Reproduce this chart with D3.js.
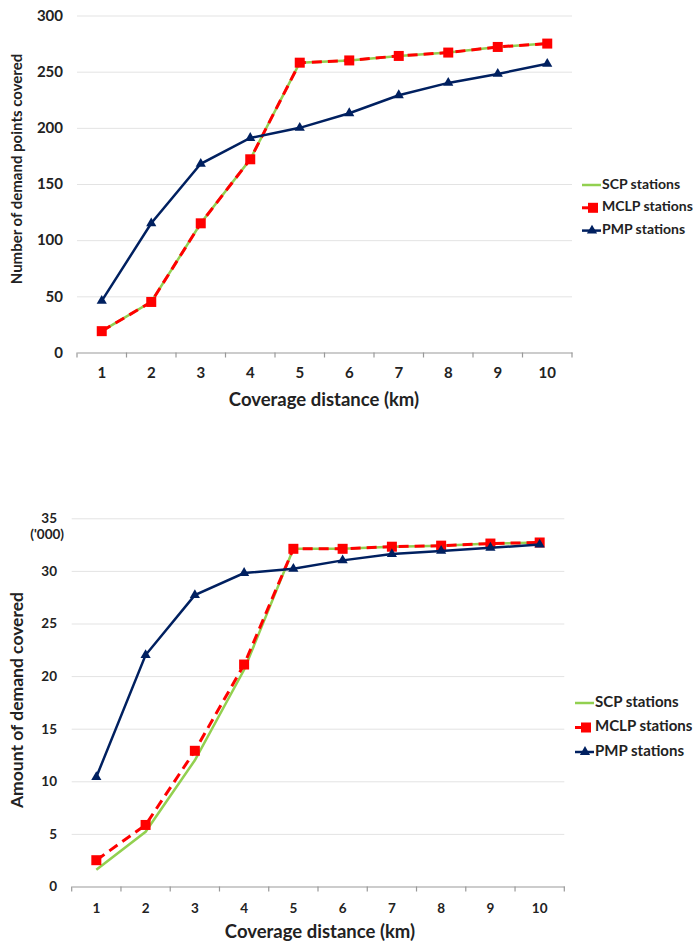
<!DOCTYPE html>
<html><head><meta charset="utf-8">
<script src="https://cdn.jsdelivr.net/npm/d3@7"></script>
<style>
body{margin:0;background:#fff;}
svg text{font-family:Lato,"Open Sans",sans-serif;fill:#222;}
</style></head>
<body><svg id="c" width="693" height="948"></svg>
<script>
const categories=[1,2,3,4,5,6,7,8,9,10];
// Chart 1: number of demand points covered
const scp1=[19,45,115,172,258,260,264,267,272,275];
const mclp1=[19,45,115,172,258,260,264,267,272,275];
const pmp1=[46,115,168,191,200,213,229,240,248,257];
const yTicks1=[0,50,100,150,200,250,300];
// Chart 2: amount of demand covered ('000)
const scp2=[1.6,5.2,12.0,20.6,32.1,32.1,32.3,32.4,32.6,32.7];
const mclp2=[2.5,5.85,12.9,21.1,32.1,32.1,32.3,32.4,32.6,32.7];
const pmp2=[10.4,22.0,27.7,29.8,30.2,31.0,31.6,31.9,32.2,32.5];
const yTicks2=[0,5,10,15,20,25,30,35];
const seriesNames=["SCP stations","MCLP stations","PMP stations"];
const colors={green:"#92d050",red:"#ff0000",navy:"#002060"};

const svg=d3.select("#c");

function drawChart(o){
  const g=svg.append("g");
  const x=d3.scaleBand().domain(categories).range([o.x0,o.x1]);
  const y=d3.scaleLinear().domain([0,o.ymax]).range([o.yb,o.yt]);
  const cx=d=>x(d)+x.bandwidth()/2;
  // gridlines
  g.append("g").attr("transform",`translate(${o.x0},0)`)
    .call(d3.axisLeft(y).tickValues(o.ticks.filter(t=>t>0)).tickSize(-(o.x1-o.x0)).tickFormat(""))
    .call(s=>s.select(".domain").remove())
    .call(s=>s.selectAll("line").attr("stroke","#e3e3e3").attr("stroke-width",1));
  // y tick labels
  g.append("g").attr("transform",`translate(${o.ylabX},0)`)
    .call(d3.axisLeft(y).tickValues(o.ticks).tickSize(0).tickPadding(0))
    .call(s=>s.select(".domain").remove())
    .call(s=>s.selectAll("text").attr("font-size",o.tickFs).attr("font-weight","bold").attr("fill","#222").style("font-family","Lato,sans-serif"));
  // x axis
  g.append("g").attr("transform",`translate(0,${o.yb})`)
    .call(d3.axisBottom(x).tickSize(0).tickPadding(o.xTickPad))
    .call(s=>s.select(".domain").attr("stroke","#999").attr("stroke-width",1.2))
    .call(s=>s.selectAll("text").attr("font-size",o.xTickFs).attr("font-weight","bold").attr("fill","#222").style("font-family","Lato,sans-serif"));
  // boundary ticks
  const bounds=categories.map(c=>x(c)).concat([x(categories[categories.length-1])+x.bandwidth()]);
  g.selectAll(".bt").data(bounds).join("line")
    .attr("x1",d=>d).attr("x2",d=>d).attr("y1",o.yb).attr("y2",o.yb+5)
    .attr("stroke","#999").attr("stroke-width",1.2);
  const line=d3.line().x((d,i)=>cx(categories[i])).y(d=>y(d));
  // SCP green
  g.append("path").datum(o.scp).attr("d",line).attr("fill","none")
    .attr("stroke",colors.green).attr("stroke-width",2.5);
  // MCLP red dashed
  g.append("path").datum(o.mclp).attr("d",line).attr("fill","none")
    .attr("stroke",colors.red).attr("stroke-width",3).attr("stroke-dasharray","10,6");
  g.selectAll(".sq").data(o.mclp).join("rect")
    .attr("x",(d,i)=>cx(categories[i])-5).attr("y",d=>y(d)-5)
    .attr("width",10).attr("height",10).attr("fill",colors.red);
  // PMP navy
  g.append("path").datum(o.pmp).attr("d",line).attr("fill","none")
    .attr("stroke",colors.navy).attr("stroke-width",2.5);
  const tri=d3.symbol().type(d3.symbolTriangle).size(45);
  g.selectAll(".tr").data(o.pmp).join("path")
    .attr("d",tri).attr("transform",(d,i)=>`translate(${cx(categories[i])},${y(d)})`)
    .attr("fill",colors.navy);
  // axis titles
  g.append("text").attr("transform",`translate(${o.ytX},${o.ytY}) rotate(-90)`)
    .attr("text-anchor","middle").attr("dominant-baseline","middle")
    .attr("font-size",o.titleFs).attr("font-weight","bold").text(o.yTitle);
  g.append("text").attr("x",o.xtX).attr("y",o.xtY)
    .attr("text-anchor","middle").attr("dominant-baseline","middle")
    .attr("font-size",o.xTitleFs).attr("font-weight","bold").text("Coverage distance (km)");
  if(o.unit){
    g.append("text").attr("x",o.unit.x).attr("y",o.unit.y).attr("text-anchor","end")
      .attr("dominant-baseline","middle").attr("font-size",o.tickFs).attr("font-weight","bold").text(o.unit.t);
  }
  // legend
  const lg=g.append("g").attr("transform",`translate(${o.lgX},${o.lgY})`);
  seriesNames.forEach((n,i)=>{
    const r=lg.append("g").attr("transform",`translate(0,${i*o.lgStep})`);
    const col=[colors.green,colors.red,colors.navy][i];
    if(i===1){
      r.append("line").attr("x1",0).attr("x2",8).attr("stroke",col).attr("stroke-width",3);
      r.append("rect").attr("x",6).attr("y",-5).attr("width",10).attr("height",10).attr("fill",col);
    } else {
      r.append("line").attr("x1",0).attr("x2",19).attr("y1",0).attr("y2",0).attr("stroke",col).attr("stroke-width",2.5);
    }
    if(i===2) r.append("path").attr("d",tri).attr("transform","translate(10,0)").attr("fill",col);
    r.append("text").attr("x",20).attr("y",0).attr("dominant-baseline","middle")
      .attr("font-size",o.lgFs).attr("font-weight","bold").text(n);
  });
}

drawChart({x0:77,x1:572,yb:352.5,yt:15.5,ymax:300,ticks:yTicks1,scp:scp1,mclp:mclp1,pmp:pmp1,
  ylabX:63,tickFs:15,xTickFs:15,xTickPad:15,titleFs:15,xTitleFs:18.5,
  yTitle:"Number of demand points covered",ytX:18,ytY:169,xtX:324,xtY:401,
  lgX:582,lgY:185,lgStep:22.8,lgFs:14});
drawChart({x0:71.7,x1:564.3,yb:886.5,yt:518.3,ymax:35,ticks:yTicks2,scp:scp2,mclp:mclp2,pmp:pmp2,
  ylabX:57,tickFs:13.5,xTickFs:13.5,xTickPad:16.5,titleFs:17.5,xTitleFs:18.5,
  yTitle:"Amount of demand covered",ytX:19,ytY:700,xtX:320,xtY:933,
  unit:{x:64,y:536,t:"('000)"},
  lgX:575,lgY:703,lgStep:24.5,lgFs:15});
</script></body></html>
